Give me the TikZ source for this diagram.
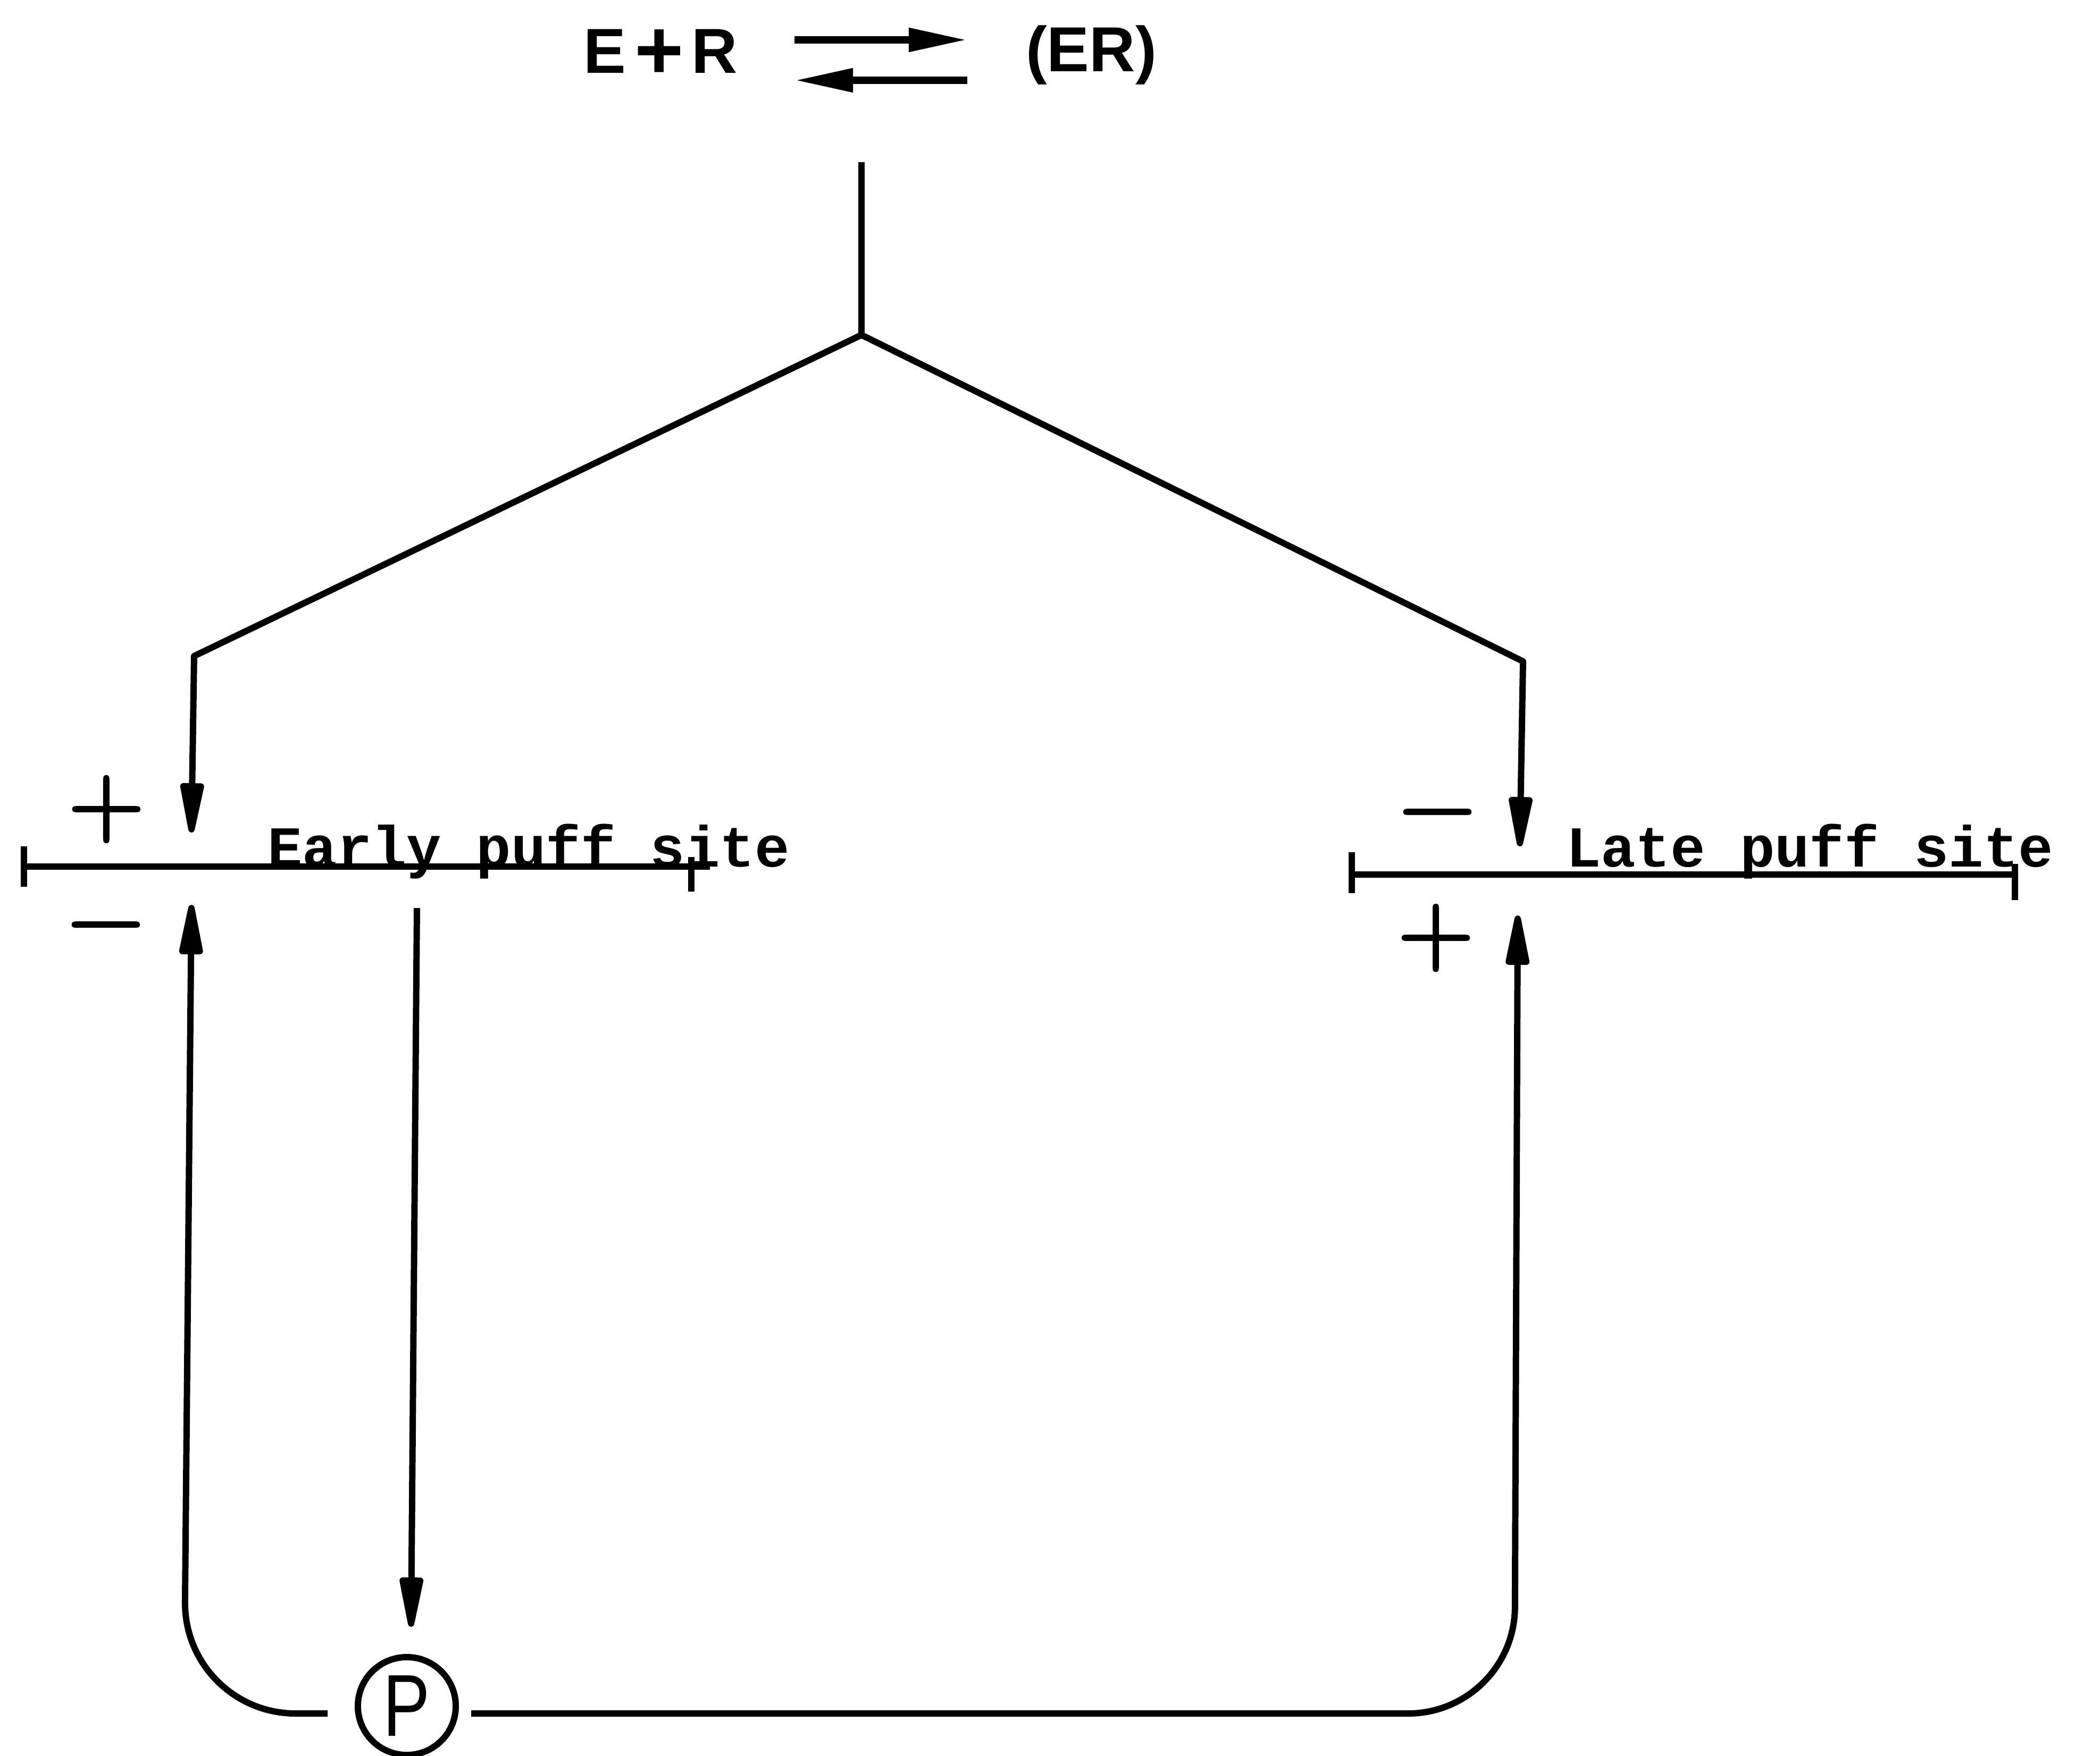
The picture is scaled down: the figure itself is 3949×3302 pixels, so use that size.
\documentclass[tikz,border=0pt]{standalone}
\usepackage{fontspec}
\usepackage{graphicx}
\usetikzlibrary{arrows.meta}
\newfontfamily\sansb{Liberation Sans}
\newfontfamily\monof{Liberation Mono}
\newfontfamily\signf{Latin Modern Roman}[FakeBold=2.5]
\begin{document}
\begin{tikzpicture}[x=0.01cm,y=-0.01cm,
  ln/.style={line width=3.4pt, line join=round},
  arr/.style={ln, -{Triangle[length=12mm,width=4.4mm,round]}},
  rarr/.style={line width=4pt, -{Triangle[length=11mm,width=4.2mm]}},
  tick/.style={line width=3.4pt},
  lbl/.style={inner sep=0pt, font=\monof\bfseries\fontsize{31}{31}\selectfont, anchor=base},
  sgn/.style={inner sep=0pt, font=\signf\fontsize{56}{56}\selectfont},
  rx/.style={inner sep=0pt, font=\sansb\bfseries\fontsize{34}{34}\selectfont},
]
\useasboundingbox (0,0) rectangle (3949,3302);

% reaction
\node[rx] (er) at (1242,102) {E\kern0.14em\raisebox{-3pt}{\fontsize{45}{45}\selectfont +}\kern0.12em R};
\node[rx] (cx) at (2052,104) {(ER)};
\coordinate (f1) at (1494,75);
\coordinate (f2) at (1819,75);
\coordinate (b1) at (1819,151);
\coordinate (b2) at (1494,151);
\draw[rarr] (f1) -- (f2);
\draw[rarr] (b1) -- (b2);

% fork
\coordinate (stemtop) at (1620,305);
\coordinate (fork) at (1620,630);
\coordinate (lb) at (365,1234);
\coordinate (ltip) at (360,1566);
\coordinate (rb) at (2864,1244);
\coordinate (rtip) at (2858,1592);
\draw[ln] (stemtop) -- (fork);
\draw[arr] (fork) -- (lb) -- (ltip);
\draw[arr] (fork) -- (rb) -- (rtip);

% early puff site
\coordinate (e1) at (45,1630);
\coordinate (e2) at (1335,1630);
\draw[ln] (e1) -- (e2);
\draw[tick] (45,1592) -- (45,1668);
\draw[tick] (1300,1612) -- (1300,1677);
\node[lbl] (early) at (994,1630) {Early puff site};
\node[sgn] (ep) at (200,1522) {+};
\node[sgn] (em) at (199,1762) {−};

% late puff site
\coordinate (l1) at (2542,1645);
\coordinate (l2) at (3789,1645);
\draw[ln] (l1) -- (l2);
\draw[tick] (2542,1603) -- (2542,1680);
\draw[tick] (3789,1625) -- (3789,1693);
\node[lbl] (late) at (3403,1630) {Late puff site};
\node[sgn] (lm) at (2703,1550) {−};
\node[sgn] (lp) at (2700,1764) {+};

% P
\node[circle, draw, line width=3.4pt, minimum size=1.84cm, inner sep=0pt] (P) at (765,3209)
  {\sansb\fontsize{47}{47}\selectfont\scalebox{0.8}[1]{P}};

% down arrow to P
\coordinate (dtop) at (784,1708);
\coordinate (dtip) at (773,3060);
\draw[arr] (dtop) -- (dtip);

% feedback loops
\coordinate (pl) at (616,3223);
\coordinate (lc) at (346,3223);
\coordinate (lup) at (360,1702);
\draw[arr, rounded corners=2.1cm] (pl) -- (lc) -- (lup);
\coordinate (pr) at (886,3223);
\coordinate (rc) at (2848,3223);
\coordinate (rup) at (2854,1722);
\draw[arr, rounded corners=2cm] (pr) -- (rc) -- (rup);
\end{tikzpicture}
\end{document}
